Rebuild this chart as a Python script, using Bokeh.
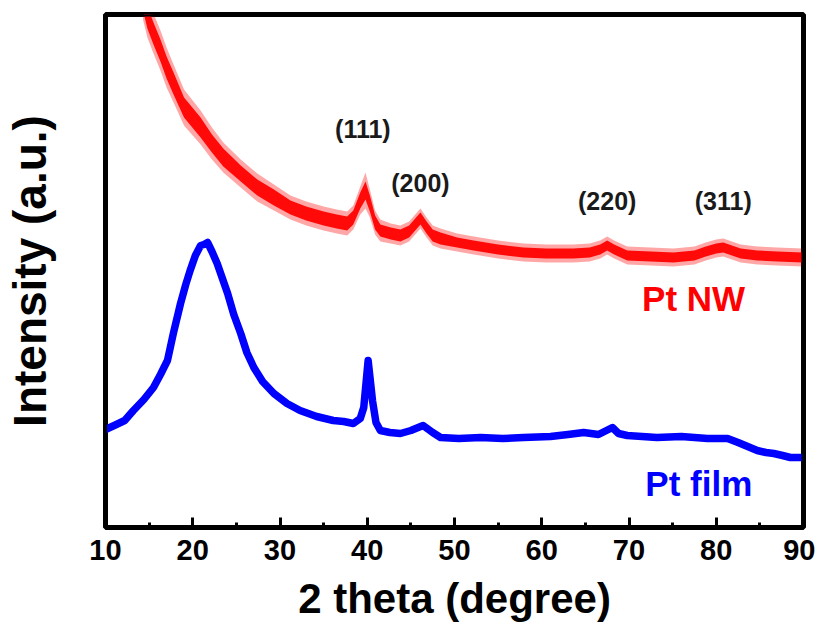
from bokeh.plotting import figure
from bokeh.models import Range1d, SingleIntervalTicker, FixedTicker, Span
from bokeh.core.properties import value
from bokeh.embed import file_html
from bokeh.resources import INLINE

# ---- data (2 theta in degree, intensity in a.u.) ----
nw_x = [14.3, 14.8, 15.5, 16.3, 17.0, 17.8, 19.0, 20.9, 22.2, 23.5, 25.5, 27.4, 29.3, 31.2,
        33.0, 35.0, 36.5, 37.7, 38.4, 39.2, 39.8, 40.3, 40.9, 41.5, 42.7, 43.8, 44.8, 45.5,
        46.1, 46.8, 47.5, 48.4, 50.3, 52.2, 55.0, 57.9, 60.5, 63.6, 65.5, 66.7, 67.5, 68.3,
        69.8, 72.5, 75.1, 77.5, 78.8, 80.0, 80.8, 81.8, 82.8, 84.7, 87.0, 89.9]
nw_y = [528, 510, 494, 477, 460, 444, 420, 400, 384, 370, 354, 340, 330, 320,
        314, 309, 306, 304, 310, 327, 337, 324, 305, 297, 294, 292, 296, 303,
        309, 300, 292, 289, 285, 282, 278, 275, 274, 274, 275, 278, 282, 278,
        272, 271, 270, 272, 276, 279, 280, 277, 274, 272, 271, 270]
nw_w = [11, 11, 11, 11, 11, 11, 10, 10, 9, 9, 8, 8, 8, 7,
        7, 7, 7, 7, 7, 8, 9, 8, 7, 6, 6, 6, 6, 6,
        6, 6, 6, 6, 5, 5, 5, 5, 5, 5, 5, 5, 5, 5,
        5, 5, 5, 5, 5, 5, 5, 5, 5, 5, 5, 5]
nw_spike = [20, 20, 20, 20, 20, 19, 18, 17, 16, 15, 14, 14, 13, 12,
            12, 12, 12, 12, 12, 14, 18, 14, 12, 11, 10, 10, 10, 10,
            10, 10, 10, 10, 9, 9, 9, 9, 9, 9, 9, 9, 9, 9,
            9, 9, 9, 9, 9, 9, 9, 9, 9, 9, 9, 9]

film_x = [10.0, 11.0, 12.2, 13.2, 14.4, 15.5, 16.3, 17.1, 17.8, 18.6, 19.2, 19.7, 20.3,
          20.9, 21.3, 21.7, 22.2, 22.8, 23.4, 24.0, 24.7, 25.5, 26.2, 27.0, 28.0, 29.3,
          30.8, 32.3, 34.2, 36.1, 37.3, 38.4, 39.2, 39.6, 40.1, 40.6, 41.0, 41.5, 42.6,
          43.8, 45.0, 46.4, 47.5, 48.4, 50.5, 53.0, 55.5, 57.9, 61.0, 63.0, 64.8, 66.5,
          68.1, 68.8, 69.8, 71.5, 73.2, 76.0, 79.0, 81.3, 82.5, 83.6, 84.7, 85.7, 86.6,
          87.6, 88.5, 90.0]
film_y = [98, 102, 107, 117, 128, 140, 153, 167, 195, 224, 243, 257, 272,
          282, 283, 285, 276, 264, 249, 234, 213, 194, 175, 160, 146, 134,
          124, 117, 111, 107, 106, 104, 109, 120, 167, 127, 105, 97, 95,
          94, 97, 102, 95, 90, 89, 90, 89, 90, 91, 93, 95, 93,
          100, 94, 92, 91, 90, 91, 89, 89, 85, 81, 77, 75, 74,
          72, 70, 70]

ticks_x = [10, 20, 30, 40, 50, 60, 70, 80, 90]

peak_labels = ["(111)", "(200)", "(220)", "(311)"]
peak_x = [39.5, 46.1, 67.5, 80.8]
peak_y = [399, 345, 327, 327]

series_names = ["Pt NW", "Pt film"]
series_colors = ["#ff0000", "#0000ff"]
name_x = [77.4, 78.0]
name_y = [229, 44]

FONT = "Liberation Sans"
X_LO, X_HI, Y_LO, Y_HI = 10, 90, 0, 513

W, H = 815, 630
p = figure(width=W, height=H, output_backend="svg", toolbar_location=None,
           x_range=Range1d(X_LO, X_HI), y_range=Range1d(Y_LO, Y_HI),
           min_border_left=105, min_border_right=W - 803, min_border_top=14,
           min_border_bottom=H - 527)
p.background_fill_color = "white"
p.border_fill_color = "white"
p.grid.visible = False
p.outline_line_color = "black"
p.outline_line_width = 5
p.outline_line_alpha = 1.0

# red noisy band: faint spikes envelope + dense core
sp_lo = [y - w for y, w in zip(nw_y, nw_spike)]
sp_hi = [y + w for y, w in zip(nw_y, nw_spike)]
p.varea(x=nw_x, y1=sp_lo, y2=sp_hi, fill_color=series_colors[0], fill_alpha=0.35)
nw_lo = [y - w for y, w in zip(nw_y, nw_w)]
nw_hi = [y + w for y, w in zip(nw_y, nw_w)]
p.varea(x=nw_x, y1=nw_lo, y2=nw_hi, fill_color=series_colors[0], fill_alpha=0.95)

# blue thick line
p.line(film_x, film_y, line_color=series_colors[1], line_width=7.5, line_join="round", line_cap="round")

p.text(x=peak_x, y=peak_y, text=peak_labels, text_align="center", text_baseline="middle",
       text_font=value(FONT), text_font_style="bold", text_font_size="25px", text_color="#1a1a1a")
p.text(x=name_x, y=name_y, text=series_names, text_align="center", text_baseline="middle",
       text_font=value(FONT), text_font_style="bold", text_font_size="35px", text_color=series_colors)

xa = p.xaxis[0]
xa.ticker = SingleIntervalTicker(interval=10, num_minor_ticks=2)
xa.axis_line_width = 3
xa.major_tick_in = 10
xa.major_tick_out = 0
xa.minor_tick_in = 5
xa.minor_tick_out = 0
xa.major_tick_line_width = 3
xa.minor_tick_line_width = 3
xa.major_label_standoff = 12
xa.major_label_text_font = FONT
xa.major_label_text_font_style = "bold"
xa.major_label_text_font_size = "29px"
xa.major_label_text_color = "black"
xa.axis_label = "2 theta (degree)"
xa.axis_label_text_font = FONT
xa.axis_label_text_font_style = "bold"
xa.axis_label_text_font_size = "42px"
xa.axis_label_text_color = "black"
xa.axis_label_standoff = 12

ya = p.yaxis[0]
ya.ticker = FixedTicker(ticks=[])
ya.axis_line_width = 3
ya.major_tick_in = 0
ya.major_tick_out = 0
ya.minor_tick_in = 0
ya.minor_tick_out = 0
ya.axis_label = "Intensity (a.u.)"
ya.axis_label_text_font = FONT
ya.axis_label_text_font_style = "bold"
ya.axis_label_text_font_size = "46px"
ya.axis_label_text_color = "black"
ya.axis_label_standoff = 50

# solid frame lines on top and right edges
p.add_layout(Span(location=Y_HI, dimension="width", line_color="black", line_width=4))
p.add_layout(Span(location=X_HI, dimension="height", line_color="black", line_width=4))

open("out.html", "w").write(file_html(p, INLINE))
